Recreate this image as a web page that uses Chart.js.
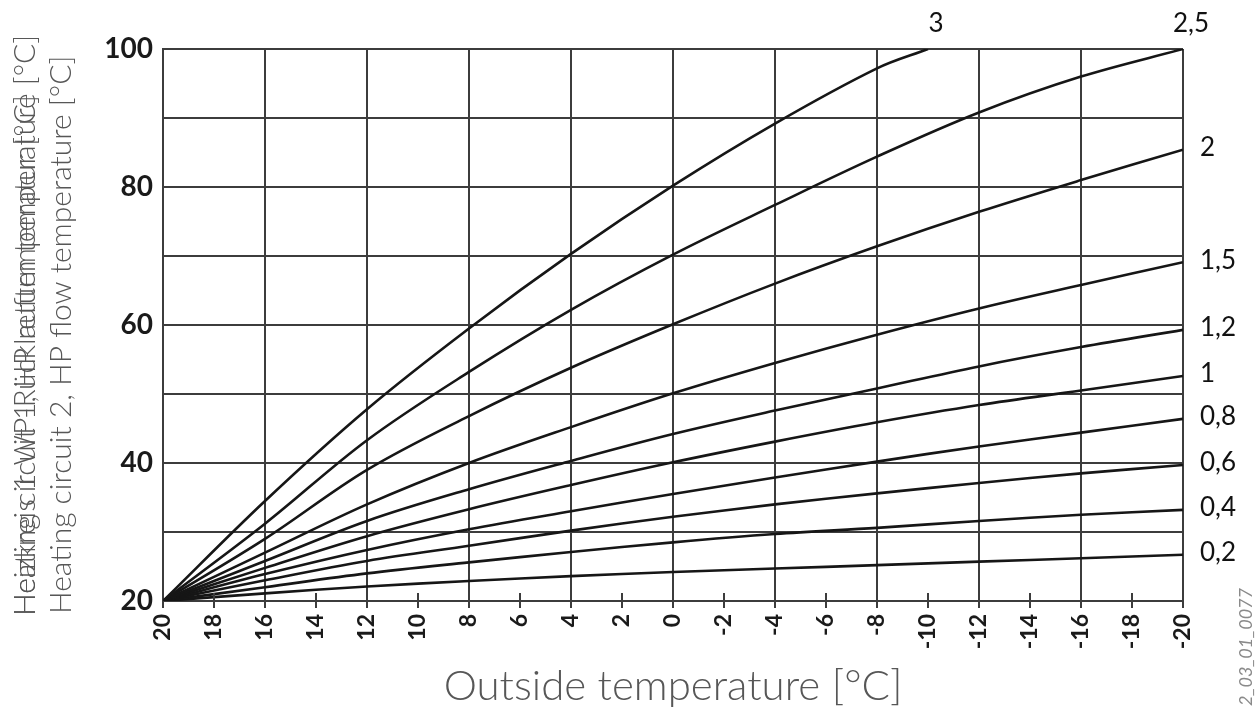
<!DOCTYPE html>
<html>
<head>
<meta charset="utf-8">
<script src="https://cdn.jsdelivr.net/npm/chart.js@4.4.0/dist/chart.umd.min.js"></script>
<style>
  html, body { margin: 0; padding: 0; background: #fff; }
  #wrap { width: 1259px; height: 707px; }
</style>
</head>
<body>
<div id="wrap"><canvas id="curvesChart" width="1259" height="707"></canvas></div>
<script>
// outside temperature points (x)
const outsideTemps = [20, 16, 12, 8, 4, 0, -4, -8, -12, -16, -20];
const curve3Temps = [20, 16, 12, 8, 4, 0, -4, -8, -10];

// flow temperatures per heating curve slope
const slope3 = [20, 34.5, 47.8, 59.5, 70.3, 80.2, 89.2, 97.2, 100];
const slope25 = [20, 31.2, 43.3, 53.2, 62.2, 70.2, 77.4, 84.4, 90.8, 96.0, 100];
const slope2 = [20, 29.0, 39.0, 46.8, 53.8, 60.1, 66.0, 71.4, 76.4, 81.0, 85.4];
const slope15 = [20, 27.0, 34.0, 40.0, 45.2, 50.1, 54.5, 58.6, 62.4, 65.8, 69.1];
const slope12 = [20, 25.8, 31.6, 36.2, 40.3, 44.2, 47.6, 50.8, 54.0, 56.8, 59.3];
const slope10 = [20, 24.8, 29.4, 33.3, 36.8, 40.1, 43.1, 45.9, 48.4, 50.5, 52.6];
const slope08 = [20, 23.9, 27.4, 30.4, 33.0, 35.5, 37.9, 40.2, 42.4, 44.4, 46.4];
const slope06 = [20, 23.0, 25.8, 28.0, 30.2, 32.2, 34.0, 35.6, 37.1, 38.5, 39.7];
const slope04 = [20, 22.0, 24.0, 25.6, 27.1, 28.5, 29.7, 30.6, 31.6, 32.5, 33.2];
const slope02 = [20, 21.1, 22.1, 22.9, 23.6, 24.2, 24.7, 25.2, 25.7, 26.2, 26.7];

const curveLabels = ['3', '2,5', '2', '1,5', '1,2', '1', '0,8', '0,6', '0,4', '0,2'];
const yTicks = [20, 40, 60, 80, 100];

const yTitle1a = 'Heizkreis 1 WP-Rücklauftemperatur [°C]';
const yTitle1b = 'Heating circuit 1, HP return temperature [°C]';
const yTitle2 = 'Heating circuit 2, HP flow temperature [°C]';
const xTitle = 'Outside temperature [°C]';
const docRef = '6720619592_03_01_0077';

const lineColor = '#161616';
const gridColor = '#3c3c3c';

function toPoints(xs, ys) {
  return ys.map((y, i) => ({ x: xs[i], y: y }));
}

const series = [
  toPoints(curve3Temps, slope3),
  toPoints(outsideTemps, slope25),
  toPoints(outsideTemps, slope2),
  toPoints(outsideTemps, slope15),
  toPoints(outsideTemps, slope12),
  toPoints(outsideTemps, slope10),
  toPoints(outsideTemps, slope08),
  toPoints(outsideTemps, slope06),
  toPoints(outsideTemps, slope04),
  toPoints(outsideTemps, slope02)
];

// labels, titles and minor ticks
const extrasPlugin = {
  id: 'extras',
  afterDatasetsDraw(chart) {
    const ctx = chart.ctx;
    const area = chart.chartArea;
    const xScale = chart.scales.x;

    // minor ticks inside the plot at odd gridlines
    ctx.save();
    ctx.strokeStyle = gridColor;
    ctx.lineWidth = 2;
    xScale.ticks.forEach(t => {
      if (t.value % 4 !== 0) {
        const px = xScale.getPixelForValue(t.value);
        ctx.beginPath();
        ctx.moveTo(px, area.bottom);
        ctx.lineTo(px, area.bottom - 8);
        ctx.stroke();
      }
    });
    ctx.restore();

    // curve labels
    ctx.save();
    ctx.fillStyle = '#111';
    ctx.font = '26px Lato';
    ctx.textBaseline = 'middle';
    chart.data.datasets.forEach((ds, i) => {
      const meta = chart.getDatasetMeta(i);
      const last = meta.data[meta.data.length - 1];
      if (last.y <= area.top + 1) {
        ctx.textAlign = 'center';
        ctx.fillText(curveLabels[i], last.x + 8, area.top - 25);
      } else {
        ctx.textAlign = 'left';
        ctx.fillText(curveLabels[i], area.right + 17, last.y - 2);
      }
    });
    ctx.restore();

    // axis titles
    ctx.save();
    ctx.fillStyle = '#575757';
    ctx.textBaseline = 'middle';
    ctx.font = '300 30px Lato';
    ctx.translate(25, 616);
    ctx.rotate(-Math.PI / 2);
    ctx.textAlign = 'left';
    ctx.fillText(yTitle1a, 0, 0);
    ctx.fillText(yTitle1b, 0, 0);
    ctx.restore();

    ctx.save();
    ctx.fillStyle = '#575757';
    ctx.textBaseline = 'middle';
    ctx.font = '300 30px Lato';
    ctx.translate(61, 614);
    ctx.rotate(-Math.PI / 2);
    ctx.textAlign = 'left';
    ctx.fillText(yTitle2, 0, 0);
    ctx.restore();

    ctx.save();
    ctx.fillStyle = '#575757';
    ctx.textBaseline = 'middle';
    ctx.textAlign = 'center';
    ctx.font = '300 42px Lato';
    ctx.fillText(xTitle, (area.left + area.right) / 2, 686);
    ctx.restore();

    ctx.save();
    ctx.fillStyle = '#8a8a8a';
    ctx.textBaseline = 'middle';
    ctx.textAlign = 'right';
    ctx.font = 'italic 18px Lato';
    ctx.translate(1246, 588);
    ctx.rotate(-Math.PI / 2);
    ctx.fillText(docRef, 0, 0);
    ctx.restore();
  }
};

new Chart(document.getElementById('curvesChart'), {
  type: 'line',
  data: {
    datasets: series.map((pts, i) => ({
      label: curveLabels[i],
      data: pts,
      borderColor: lineColor,
      borderWidth: 2.6,
      pointRadius: 0,
      fill: false,
      tension: 0.35
    }))
  },
  options: {
    responsive: false,
    animation: false,
    layout: { padding: { left: 0, right: 76, top: 49, bottom: 0 } },
    plugins: {
      legend: { display: false },
      tooltip: { enabled: false }
    },
    scales: {
      x: {
        type: 'linear',
        reverse: true,
        min: -20,
        max: 20,
        afterFit: scale => { scale.height = 106; },
        border: { display: true, color: gridColor, width: 2 },
        grid: {
          color: c => (c.tick && c.tick.value % 4 === 0) ? gridColor : 'rgba(0,0,0,0)',
          tickColor: gridColor,
          lineWidth: 2,
          tickLength: 7
        },
        ticks: {
          stepSize: 2,
          autoSkip: false,
          minRotation: 90,
          maxRotation: 90,
          padding: 6,
          color: '#1a1a1a',
          font: { family: 'Lato', size: 23, weight: 'bold' }
        }
      },
      y: {
        min: 20,
        max: 100,
        afterFit: scale => { scale.width = 163; },
        border: { display: true, color: gridColor, width: 2 },
        grid: { color: gridColor, lineWidth: 2, drawTicks: false },
        ticks: {
          stepSize: 10,
          padding: 10,
          color: '#1a1a1a',
          font: { family: 'Lato', size: 28, weight: 'bold' },
          callback: v => yTicks.includes(v) ? v : ''
        }
      }
    }
  },
  plugins: [extrasPlugin]
});
</script>
</body>
</html>
